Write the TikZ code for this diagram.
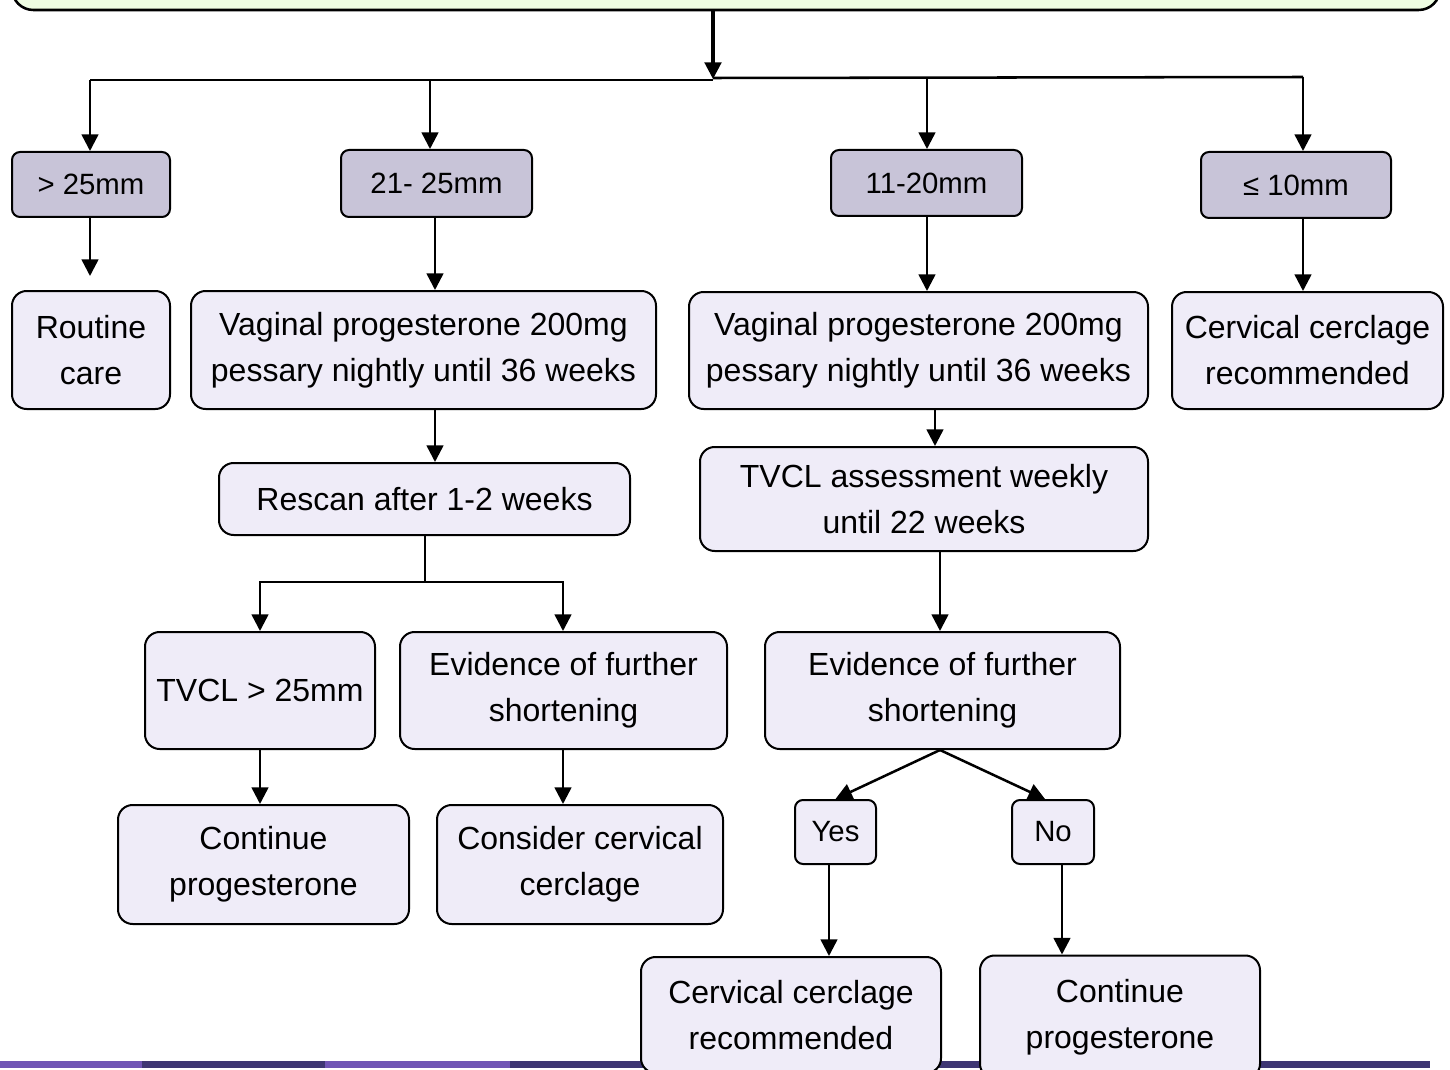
\documentclass[tikz,border=0pt]{standalone}
\usepackage{fontspec}
\setmainfont{Liberation Sans}
\usetikzlibrary{arrows.meta,calc}
\definecolor{greenfill}{HTML}{EEFDE2}
\definecolor{greyfill}{HTML}{C8C4D8}
\definecolor{lavfill}{HTML}{EFECF8}
\definecolor{barlight}{HTML}{7055B5}
\definecolor{bardark}{HTML}{3E3673}
\begin{document}
\begin{tikzpicture}[x=0.75pt,y=-0.75pt,
  bx/.style 2 args={draw=black,line width=1.5pt,rounded corners=11pt,fill=lavfill,
    align=center,inner sep=0pt,font=\fontsize{24}{34.5}\selectfont,
    minimum width=#1*0.75pt,minimum height=#2*0.75pt},
  sbx/.style 2 args={draw=black,line width=1.5pt,rounded corners=6pt,fill=greyfill,
    align=center,inner sep=0pt,font=\fontsize{22}{30}\selectfont,
    minimum width=#1*0.75pt,minimum height=#2*0.75pt},
  arr/.style={draw=black,line width=1.9pt,-{Triangle[width=12.5pt,length=12.5pt]}},
  ln/.style={draw=black,line width=1.9pt}]
\useasboundingbox (0,0) rectangle (1450,1070);
\clip (0,0) rectangle (1450,1070);
% bottom bar
\fill[barlight] (0,1061) rectangle (142,1068);
\fill[bardark] (142,1061) rectangle (325,1068);
\fill[barlight] (325,1061) rectangle (510,1068);
\fill[bardark] (510,1061) rectangle (1430,1068);
% top box
\node[draw=black,line width=1.9pt,rounded corners=16pt,fill=greenfill,inner sep=0pt,
  minimum width=1428*0.75pt,minimum height=80*0.75pt] (top) at (726,-30) {};
% row 1
\node[sbx={158}{65}] (r1a) at (91,184.5) {> 25mm};
\node[sbx={191}{67}] (r1b) at (436.5,183.5) {21- 25mm};
\node[sbx={191}{66}] (r1c) at (926.5,183) {11-20mm};
\node[sbx={190}{66}] (r1d) at (1296,185) {≤ 10mm};
% row 2
\node[bx={158}{118}] (r2a) at (91,350) {Routine\\care};
\node[bx={465}{118}] (r2b) at (423.5,350) {Vaginal progesterone 200mg\\pessary nightly until 36 weeks};
\node[bx={459}{117}] (r2c) at (918.5,350.5) {Vaginal progesterone 200mg\\pessary nightly until 36 weeks};
\node[bx={271}{117}] (r2d) at (1307.5,350.5) {Cervical cerclage\\recommended};
% row 3
\node[bx={411}{72}] (rescan) at (424.5,499) {Rescan after 1-2 weeks};
\node[bx={448}{104}] (tvcl) at (924,499) {TVCL assessment weekly\\until 22 weeks};
% row 4
\node[bx={230}{117}] (t1) at (260,690.5) {TVCL > 25mm};
\node[bx={327}{117}] (e1) at (563.5,690.5) {Evidence of further\\shortening};
\node[bx={355}{117}] (e2) at (942.5,690.5) {Evidence of further\\shortening};
% row 5
\node[bx={291}{119}] (c1) at (263.5,864.5) {Continue\\progesterone};
\node[bx={286}{119}] (c2) at (580,864.5) {Consider cervical\\cerclage};
\node[sbx={81}{64},fill=lavfill] (yes) at (835.5,832) {Yes};
\node[sbx={82}{64},fill=lavfill] (no) at (1053,832) {No};
% row 6
\node[bx={300}{116}] (f1) at (791,1015) {Cervical cerclage\\recommended};
\node[bx={280}{123}] (f2) at (1120,1017) {Continue\\progesterone};
% connectors from top
\coordinate (hub) at (713,79);
\draw[arr,line width=2.3pt] (top.south -| hub) -- (hub);
\draw[ln] (90,80) -- (713,80);
\draw[ln] (713,78) -- (1303,77);
\draw[arr] (90,80) -- (r1a.north -| 90,0);
\draw[arr] (430,80) -- (r1b.north -| 430,0);
\draw[arr] (927,78) -- (r1c.north -| 927,0);
\draw[arr] (1303,77) -- (r1d.north -| 1303,0);
% row1 -> row2
\draw[arr] (r1a.south -| 90,0) -- (90,276);
\draw[arr] (r1b.south -| 435,0) -- (r2b.north -| 435,0);
\draw[arr] (r1c.south -| 927,0) -- (r2c.north -| 927,0);
\draw[arr] (r1d.south -| 1303,0) -- (r2d.north -| 1303,0);
% row2 -> row3
\draw[arr] (r2b.south -| 435,0) -- (rescan.north -| 435,0);
\draw[arr] (r2c.south -| 935,0) -- (tvcl.north -| 935,0);
% rescan split
\draw[ln] (rescan.south -| 425,0) -- (425,582);
\draw[arr] (425,582) -| (t1.north);
\draw[arr] (425,582) -| (e1.north -| 563,0);
\draw[arr] (tvcl.south -| 940,0) -- (e2.north -| 940,0);
% row4 -> row5
\draw[arr] (t1.south) -- (c1.north -| t1.south);
\draw[arr] (e1.south -| 563,0) -- (c2.north -| 563,0);
\draw[arr] (e2.south -| 940,0) -- (yes.north);
\draw[arr] (e2.south -| 940,0) -- (no.north -| 1045,0);
% yes/no -> final
\draw[arr] (yes.south -| 829,0) -- (f1.north -| 829,0);
\draw[arr] (no.south -| 1062,0) -- (f2.north -| 1062,0);
\end{tikzpicture}
\end{document}
